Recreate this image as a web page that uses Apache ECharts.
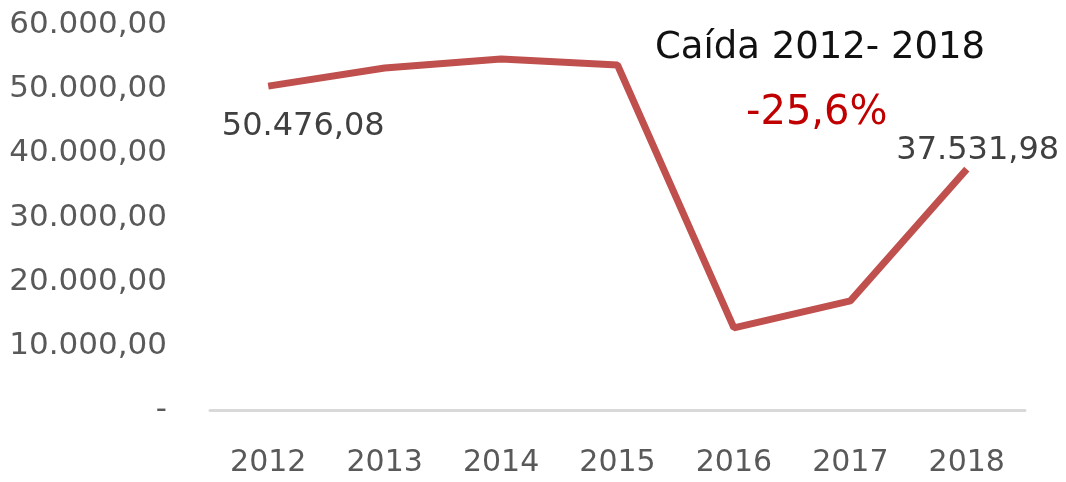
<!DOCTYPE html>
<html><head><meta charset="utf-8">
<script src="https://cdn.jsdelivr.net/npm/echarts@6/dist/echarts.min.js"></script>
<style>html,body{margin:0;padding:0;background:#fff}#c{width:1066px;height:482px}</style>
</head><body><div id="c"></div>
<script>
const categories = ['2012','2013','2014','2015','2016','2017','2018'];
const values = [50476.08, 53300, 54700, 53760, 12800, 17000, 37531.98];
const yTicks = [0, 10000, 20000, 30000, 40000, 50000, 60000];
const titleText = 'Caída 2012- 2018';
const changeText = '-25,6%';

function fmt(v){
  if (v === 0) return '-';
  const parts = v.toFixed(2).split('.');
  return parts[0].replace(/\B(?=(\d{3})+(?!\d))/g, '.') + ',' + parts[1];
}
const FONT = 'DejaVu Sans';
const chart = echarts.init(document.getElementById('c'), null, {renderer:'canvas'});
chart.setOption({
  animation:false,
  backgroundColor:'#fff',
  title:[
    {text:titleText, left:650, top:25, textStyle:{fontFamily:FONT, fontSize:37, fontWeight:'normal', color:'#111'}},
    {text:changeText, left:741, top:89, textStyle:{fontFamily:FONT, fontSize:40, fontWeight:'normal', color:'#C00000'}}
  ],
  grid:{left:210, right:41, top:25, bottom:72},
  xAxis:{type:'category', data:categories, boundaryGap:true,
    axisLine:{lineStyle:{color:'#D9D9D9', width:3}}, axisTick:{show:false},
    axisLabel:{fontFamily:FONT, fontSize:30, color:'#595959', margin:38}},
  yAxis:{type:'value', min:yTicks[0], max:yTicks[yTicks.length-1], interval:10000,
    splitLine:{show:false}, axisLine:{show:false}, axisTick:{show:false},
    axisLabel:{fontFamily:FONT, fontSize:31, color:'#595959', margin:43, formatter:fmt}},
  series:[{type:'line', data:values.map((v,i)=>{
      const o={value:v};
      if(i===0) o.label={show:true, position:'bottom', offset:[35,20]};
      if(i===values.length-1) o.label={show:true, position:'top', offset:[11,3]};
      return o;}),
    symbol:'circle', symbolSize:0, showSymbol:true,
    itemStyle:{color:'#C0504D'},
    lineStyle:{color:'#C0504D', width:7},
    label:{show:false, fontFamily:FONT, fontSize:32, color:'#404040', formatter:p=>fmt(p.value)}}]
});
</script></body></html>
